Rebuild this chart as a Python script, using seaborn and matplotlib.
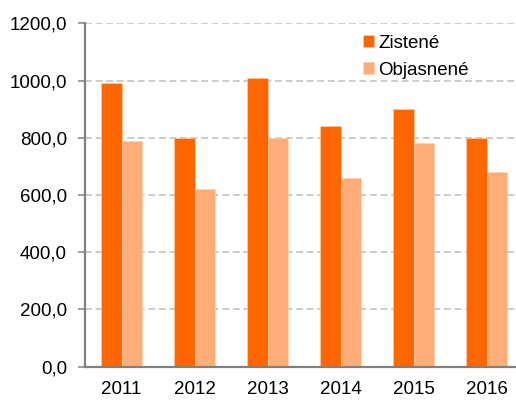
import matplotlib
matplotlib.use("Agg")
import matplotlib.pyplot as plt
import pandas as pd
import seaborn as sns
from matplotlib.ticker import FixedLocator, FuncFormatter

years = ["2011", "2012", "2013", "2014", "2015", "2016"]
zistene = [990, 800, 1010, 840, 900, 800]
objasnene = [790, 620, 800, 660, 780, 680]
series_names = ["Zistené", "Objasnené"]
colors = ["#FF6600", "#FFAD78"]
y_ticks = [0, 200, 400, 600, 800, 1000, 1200]

df = pd.DataFrame({
    "Rok": years * 2,
    "Počet": zistene + objasnene,
    "Séria": [series_names[0]] * len(years) + [series_names[1]] * len(years),
})

sns.set_style("white")
plt.rcParams["font.family"] = ["Liberation Sans", "DejaVu Sans"]
plt.rcParams["lines.scale_dashes"] = False
plt.rcParams["text.color"] = "black"
plt.rcParams["xtick.labelcolor"] = "black"
plt.rcParams["ytick.labelcolor"] = "black"

fig = plt.figure(figsize=(5.16, 4.0), dpi=100)
ax = fig.add_axes([85 / 516, 33.3 / 400, 438 / 516, 343.4 / 400])

sns.barplot(data=df, x="Rok", y="Počet", hue="Séria", palette=colors,
            width=0.57, gap=0, saturation=1, ax=ax, zorder=3,
            edgecolor="#FFD0B0", linewidth=0.4)

ax.set_xlim(-0.5, 5.5)
ax.set_ylim(0, 1200)
ax.set_yticks(y_ticks)
ax.yaxis.set_major_formatter(FuncFormatter(lambda v, _: f"{v:.1f}".replace(".", ",")))
ax.yaxis.grid(True, color="#BFBFBF", linestyle=(0, (5, 2.6)), linewidth=1.1, zorder=0)
ax.set_axisbelow(True)

ax.xaxis.set_minor_locator(FixedLocator([i - 0.5 for i in range(len(years) + 1)]))
ax.tick_params(axis="x", which="major", length=0, pad=10.5, labelsize=13.5)
ax.tick_params(axis="x", which="minor", length=5, width=1.3, color="#808080", direction="out")
ax.tick_params(axis="y", length=5, width=1.1, color="#808080", pad=8, labelsize=13.5,
               left=True, direction="out")

for side in ["top", "right"]:
    ax.spines[side].set_visible(False)
for side in ["left", "bottom"]:
    ax.spines[side].set_color("#808080")
    ax.spines[side].set_linewidth(1.6)
    ax.spines[side].set_zorder(4)

ax.set_xlabel("")
ax.set_ylabel("")

handles, labels = ax.get_legend_handles_labels()
ax.legend(handles, labels, loc="upper left", bbox_to_anchor=(355 / 516, 1 - 27 / 400),
          bbox_transform=fig.transFigure, frameon=False, fontsize=13.5,
          handlelength=0.59, handleheight=0.59, handletextpad=0.25, labelspacing=0.55,
          borderaxespad=0)

fig.savefig("out.png", dpi=100)
